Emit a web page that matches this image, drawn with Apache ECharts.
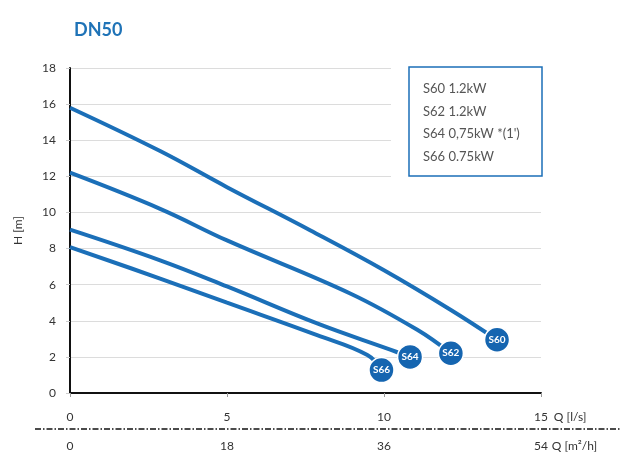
<!DOCTYPE html>
<html>
<head>
<meta charset="utf-8">
<script src="https://cdn.jsdelivr.net/npm/echarts@6/dist/echarts.min.js"></script>
<style>
  html, body { margin: 0; padding: 0; background: #fff; }
  #chart { width: 620px; height: 453px; }
</style>
</head>
<body>
<div id="chart"></div>
<script>
// pump curves, DN50
var seriesNames = ['S60 1.2kW', 'S62 1.2kW', "S64 0,75kW *(1')", 'S66 0.75kW'];
var markerNames = ['S60', 'S62', 'S64', 'S66'];

// [Q l/s, H m]
var s60 = [[0, 15.8], [2.87, 13.4], [5, 11.4], [7.66, 9.0], [10, 6.8], [12.13, 4.6], [13.6, 2.95]];
var s62 = [[0, 12.2], [2.87, 10.2], [5, 8.45], [8.94, 5.5], [11.06, 3.5], [12.13, 2.2]];
var s64 = [[0, 9.05], [2.87, 7.35], [5, 5.9], [7.87, 3.85], [10.2, 2.4], [10.83, 2.0]];
var s66 = [[0, 8.08], [2.87, 6.34], [5, 5.0], [7.87, 3.2], [9.47, 2.1], [9.92, 1.27]];

var qLsTicks = [0, 5, 10, 15];
var qM3hTicks = [0, 18, 36, 54];
var hTicks = [0, 2, 4, 6, 8, 10, 12, 14, 16, 18];

var blue = '#1b6fb8';
var font = 'Lato';

function makeSeries(name, pts, tag) {
    var data = pts.map(function (p, i) {
        if (i < pts.length - 1) return p;
        // last point gets the round badge
        return {
            value: p,
            symbol: 'circle',
            symbolSize: 25,
            itemStyle: { color: '#1565b0', borderColor: '#fff', borderWidth: 1.5 },
            label: {
                show: true, position: 'inside', formatter: tag,
                color: '#fff', fontSize: 10, fontWeight: 'bold', fontFamily: font
            }
        };
    });
    return {
        name: name,
        type: 'line',
        smooth: 0.4,
        symbol: 'none',
        showSymbol: true,
        lineStyle: { color: blue, width: 4 },
        itemStyle: { color: blue },
        emphasis: { disabled: true },
        data: data
    };
}

var chart = echarts.init(document.getElementById('chart'));

chart.setOption({
    animation: false,
    textStyle: { fontFamily: font },
    title: {
        text: 'DN50',
        left: 69,
        top: 16,
        textStyle: { color: '#1f73b7', fontSize: 18, fontWeight: 'bold', fontFamily: font }
    },
    legend: {
        data: seriesNames,
        orient: 'vertical',
        left: 413,
        top: 77,
        itemWidth: 0,
        itemHeight: 14,
        itemGap: 8.5,
        icon: 'rect',
        selectedMode: false,
        textStyle: { color: '#555', fontSize: 13, fontFamily: font },
        z: 10
    },
    grid: [
        { left: 70, top: 68, width: 471, height: 325 },
        { left: 70, top: 429, width: 471, height: 1 }
    ],
    xAxis: [
        {
            gridIndex: 0,
            type: 'value',
            min: qLsTicks[0],
            max: qLsTicks[qLsTicks.length - 1],
            interval: 5,
            name: 'Q [l/s]',
            nameLocation: 'end',
            nameGap: 7,
            nameTextStyle: { color: '#333', fontSize: 12, verticalAlign: 'top', padding: [18, 0, 0, 0] },
            axisLine: { show: true, lineStyle: { color: '#111', width: 2 } },
            axisTick: { show: true, length: 4, lineStyle: { color: '#999' } },
            axisLabel: { color: '#333', fontSize: 12, margin: 18 },
            splitLine: { show: false }
        },
        {
            gridIndex: 1,
            type: 'value',
            min: qM3hTicks[0],
            max: qM3hTicks[qM3hTicks.length - 1],
            interval: 18,
            position: 'bottom',
            name: 'Q [m²/h]',
            nameLocation: 'end',
            nameGap: 7,
            nameTextStyle: { color: '#333', fontSize: 12, verticalAlign: 'top', padding: [10, 0, 0, 0] },
            axisLine: { show: false },
            axisTick: { show: false },
            axisLabel: { color: '#333', fontSize: 12, margin: 10 },
            splitLine: { show: false }
        }
    ],
    yAxis: [
        {
            gridIndex: 0,
            type: 'value',
            min: hTicks[0],
            max: hTicks[hTicks.length - 1],
            interval: 2,
            name: 'H [m]',
            nameLocation: 'middle',
            nameGap: 46,
            nameTextStyle: { color: '#333', fontSize: 12 },
            axisLine: { show: true, lineStyle: { color: '#111', width: 2 } },
            axisTick: { show: true, length: 4, lineStyle: { color: '#ccc' } },
            axisLabel: { color: '#333', fontSize: 12, margin: 14 },
            splitLine: { show: true, lineStyle: { color: '#dcdcdc', width: 1 } }
        },
        {
            gridIndex: 1,
            type: 'value',
            show: false
        }
    ],
    graphic: [
        // gridlines stop short of the legend box in the original
        { type: 'rect', z: 1, shape: { x: 391, y: 58, width: 160, height: 122 }, style: { fill: '#fff' } },
        { type: 'rect', z: 3, shape: { x: 409, y: 67, width: 133, height: 109 },
          style: { fill: '#fff', stroke: blue, lineWidth: 1.5 } },
        // dash-dot divider between the two Q scales
        { type: 'line', z: 3, shape: { x1: 35, y1: 429, x2: 620, y2: 429 },
          style: { stroke: '#111', lineWidth: 1.5, lineDash: [6, 2, 1.5, 2] } }
    ],
    series: [
        makeSeries(seriesNames[0], s60, markerNames[0]),
        makeSeries(seriesNames[1], s62, markerNames[1]),
        makeSeries(seriesNames[2], s64, markerNames[2]),
        makeSeries(seriesNames[3], s66, markerNames[3])
    ]
});
</script>
</body>
</html>
